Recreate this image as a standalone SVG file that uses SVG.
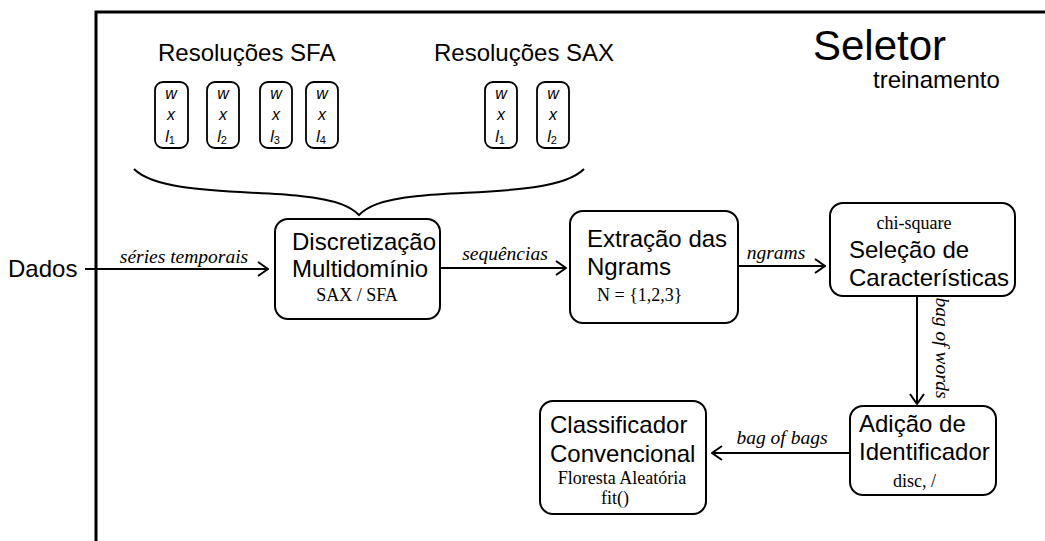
<svg xmlns="http://www.w3.org/2000/svg" width="1045" height="541" viewBox="0 0 1045 541">
<defs>
<marker id="arr" viewBox="0 0 12 16" refX="11" refY="8" markerWidth="12" markerHeight="16" markerUnits="userSpaceOnUse" orient="auto">
<path d="M1,1 L11,8 L1,15" fill="none" stroke="#000" stroke-width="2"/>
</marker>
<style>
.box{fill:#fff;stroke:#000;stroke-width:2}
.rb{fill:#fff;stroke:#000;stroke-width:1.8}
.sans{font-family:"Liberation Sans",Arial,sans-serif;fill:#000}
.big{font-size:24px}
.serif{font-family:"Liberation Serif","Times New Roman",serif;font-size:18px;fill:#000}
.it{font-style:italic;font-size:19.5px}
.sm{font-family:"Liberation Sans",Arial,sans-serif;font-size:16px;font-style:italic;fill:#000;text-anchor:middle}
.sub{font-size:11px;font-style:normal}
.con{fill:none;stroke:#000;stroke-width:2}
</style>
</defs>
<rect width="1045" height="541" fill="#fff"/>
<g id="frame">
<path d="M96,541 V12 H1045" fill="none" stroke="#000" stroke-width="3"/>
</g>
<g id="title">
<text class="sans" x="813" y="60" font-size="42">Seletor</text>
<text class="sans" x="873" y="88" font-size="24">treinamento</text>
</g>
<g id="sfa">
<text class="sans big" x="158" y="61">Resoluções SFA</text>
<rect class="rb" x="155" y="82" width="33" height="66" rx="8"/>
<rect class="rb" x="207" y="82" width="32" height="66" rx="8"/>
<rect class="rb" x="260" y="82" width="32" height="66" rx="8"/>
<rect class="rb" x="306" y="82" width="32" height="66" rx="8"/>
<text class="sm" x="171" y="99">w</text><text class="sm" x="171" y="120">x</text><text class="sm" x="170" y="142">l<tspan class="sub" dy="2">1</tspan></text>
<text class="sm" x="223" y="99">w</text><text class="sm" x="223" y="120">x</text><text class="sm" x="222" y="142">l<tspan class="sub" dy="2">2</tspan></text>
<text class="sm" x="276" y="99">w</text><text class="sm" x="276" y="120">x</text><text class="sm" x="275" y="142">l<tspan class="sub" dy="2">3</tspan></text>
<text class="sm" x="322" y="99">w</text><text class="sm" x="322" y="120">x</text><text class="sm" x="321" y="142">l<tspan class="sub" dy="2">4</tspan></text>
</g>
<g id="sax">
<text class="sans big" x="434" y="61">Resoluções SAX</text>
<rect class="rb" x="485" y="82" width="32" height="66" rx="8"/>
<rect class="rb" x="537" y="82" width="32" height="66" rx="8"/>
<text class="sm" x="501" y="99">w</text><text class="sm" x="501" y="120">x</text><text class="sm" x="500" y="142">l<tspan class="sub" dy="2">1</tspan></text>
<text class="sm" x="553" y="99">w</text><text class="sm" x="553" y="120">x</text><text class="sm" x="552" y="142">l<tspan class="sub" dy="2">2</tspan></text>
</g>
<g id="brace">
<path class="con" d="M134,169 C160,195 250,190 300,196 C340,200 352,208 359,215 C366,208 378,200 418,196 C468,190 558,195 584,169"/>
</g>
<g id="dados">
<text class="sans big" x="8" y="277">Dados</text>
</g>
<g id="discretizacao">
<rect class="box" x="275" y="219" width="165" height="100" rx="13"/>
<text class="sans big" x="292" y="250">Discretização</text>
<text class="sans big" x="292" y="277">Multidomínio</text>
<text class="serif" x="357" y="301" text-anchor="middle">SAX / SFA</text>
</g>
<g id="extracao">
<rect class="box" x="570" y="211" width="168" height="112" rx="13"/>
<text class="sans big" x="587" y="247">Extração das</text>
<text class="sans big" x="587" y="275">Ngrams</text>
<text class="serif" x="597" y="301">N = {1,2,3}</text>
</g>
<g id="selecao">
<rect class="box" x="830" y="203" width="185" height="93" rx="13"/>
<text class="serif" x="914" y="229" text-anchor="middle">chi-square</text>
<text class="sans big" x="849" y="258">Seleção de</text>
<text class="sans big" x="849" y="286">Características</text>
</g>
<g id="adicao">
<rect class="box" x="850" y="406" width="146" height="89" rx="13"/>
<text class="sans big" x="859" y="432">Adição de</text>
<text class="sans big" x="859" y="460">Identificador</text>
<text class="serif" x="893" y="487">disc, /</text>
</g>
<g id="classificador">
<rect class="box" x="540" y="401" width="166" height="113" rx="13"/>
<text class="sans big" x="550" y="433">Classificador</text>
<text class="sans big" x="550" y="462">Convencional</text>
<text class="serif" x="622" y="484" text-anchor="middle">Floresta Aleatória</text>
<text class="serif" x="615" y="504" text-anchor="middle">fit()</text>
</g>
<g id="connectors">
<path class="con" d="M85,269 H268" marker-end="url(#arr)"/>
<text class="serif it" x="184" y="263" text-anchor="middle">séries temporais</text>
<path class="con" d="M440,268 H566" marker-end="url(#arr)"/>
<text class="serif it" x="505" y="260" text-anchor="middle">sequências</text>
<path class="con" d="M739,266 H825" marker-end="url(#arr)"/>
<text class="serif it" x="776" y="259" text-anchor="middle">ngrams</text>
<path class="con" d="M917,296 V404" marker-end="url(#arr)"/>
<text class="serif it" transform="translate(936,348) rotate(90)" text-anchor="middle">bag of words</text>
<path class="con" d="M850,453 H712" marker-end="url(#arr)"/>
<text class="serif it" x="782" y="444" text-anchor="middle">bag of bags</text>
</g>
</svg>
